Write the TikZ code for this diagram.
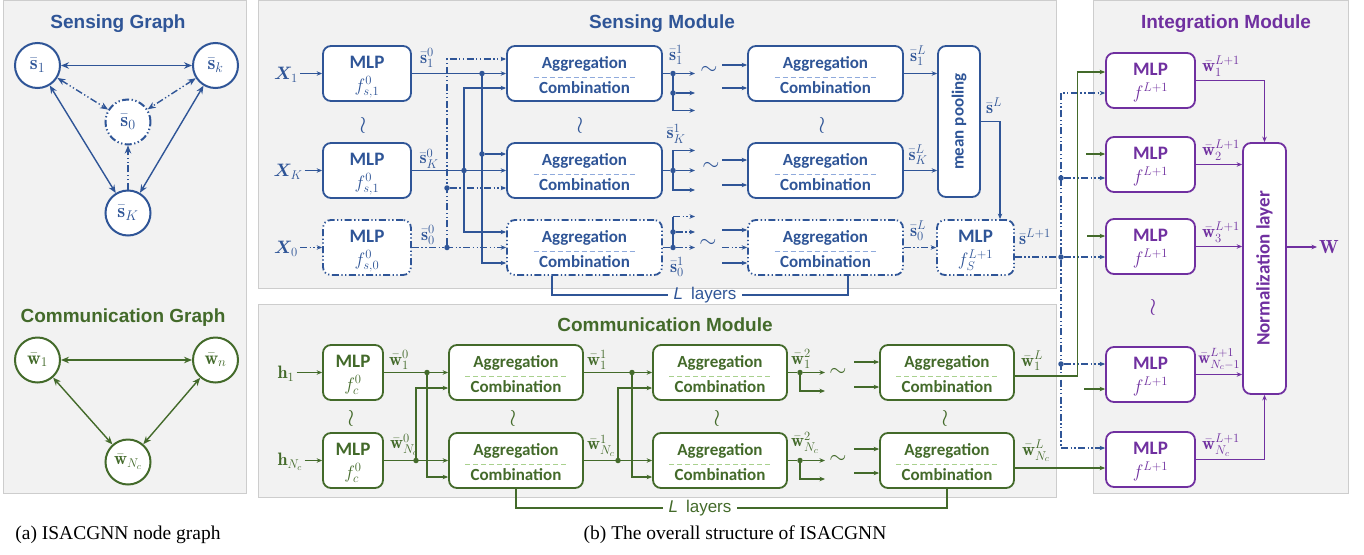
\RequirePackage{fix-cm}
\documentclass[tikz,border=0pt]{standalone}
\usepackage{amsmath}
\usepackage{bm}
\usepackage{fontspec}
\newfontfamily\calib{Carlito}
\newfontfamily\arialf{Liberation Sans}
\newfontfamily\timesf{Liberation Serif}
\usetikzlibrary{arrows.meta,calc}

\definecolor{sblue}{RGB}{47,85,151}
\definecolor{sbluelt}{RGB}{143,170,220}
\definecolor{cgreen}{RGB}{67,106,42}
\definecolor{cgreenlt}{RGB}{169,209,142}
\definecolor{ipurple}{RGB}{112,48,160}
\definecolor{panelbg}{RGB}{242,242,242}
\definecolor{panelln}{RGB}{205,205,205}

\tikzset{
  panel/.style={fill=panelbg,draw=panelln,line width=0.8pt},
  dd/.style={dash pattern=on 7pt off 2.5pt on 1.3pt off 2.5pt on 1.3pt off 2.5pt},
  blk/.style={draw=#1,fill=white,rounded corners=8pt,line width=1.8pt,minimum height=55pt,inner sep=0pt},
  wire/.style={draw=#1,line width=1.1pt},
  jdot/.style={circle,fill=#1,inner sep=0pt,minimum size=5.5pt},
  paneltitle/.style={text=#1,font=\arialf\bfseries\fontsize{19}{22}\selectfont,inner sep=0pt},
  boxtxt/.style={text=#1,font=\calib\bfseries\fontsize{17}{20}\selectfont,inner sep=0pt,anchor=base},
  mlptxt/.style={text=#1,font=\calib\bfseries\fontsize{19}{22}\selectfont,inner sep=0pt,anchor=base},
  ftxt/.style={text=#1,font=\fontsize{18}{21}\selectfont,inner sep=0pt,anchor=base},
  lab/.style={text=#1,font=\fontsize{18}{21}\selectfont,inner sep=0pt},
  inlab/.style={text=#1,font=\fontsize{18}{21}\selectfont,inner sep=2pt},
  gnode/.style={circle,draw=#1,fill=white,line width=2pt,minimum size=45pt,inner sep=0pt,text=#1,font=\fontsize{20}{23}\selectfont},
  gedge/.style={draw=#1,line width=1.4pt,arrows={Stealth[length=8pt,width=6.5pt]-Stealth[length=8pt,width=6.5pt]}},
  vwave/.style={text=#1,font=\fontsize{24}{27}\selectfont,inner sep=0pt},
  hwave/.style={text=#1,font=\fontsize{22}{25}\selectfont,inner sep=0pt},
  layerstxt/.style={text=#1,font=\arialf\fontsize{17}{20}\selectfont,inner sep=5pt},
  captext/.style={text=black,font=\timesf\fontsize{19.5}{22}\selectfont,inner sep=0pt},
}

% MLP block: name, position, colour, extra options, formula
\newcommand\mlpnode[5]{%
  \node[blk=#3,#4] (#1) at (#2) {};
  \node[mlptxt=#3] (#1-m) at ($(#1.center)+(0,-5.5)$) {MLP};
  \node[ftxt=#3] (#1-f) at ($(#1.center)+(0,18)$) {$#5$};
}
% Aggregation/Combination block: name, position, colour, separator colour, extra options
\newcommand\aggnode[5]{%
  \node[blk=#3,#5] (#1) at (#2) {};
  \draw[draw=#4,line width=1pt,dash pattern=on 5pt off 3pt] ($(#1.center)+(-51,3.5)$) -- ($(#1.center)+(51,3.5)$);
  \node[boxtxt=#3] (#1-a) at ($(#1.center)+(0,-5.5)$) {Aggregation};
  \node[boxtxt=#3] (#1-c) at ($(#1.center)+(0,19.5)$) {Combination};
}

\begin{document}
\begin{tikzpicture}[x=1pt,y=-1pt,>={Stealth[length=5.5pt,width=4.5pt]}]
\useasboundingbox (0,0) rectangle (1364,554);

% ---------- panels ----------
\draw[panel] (3,0.5) rectangle (246,493);
\draw[panel] (258,0.5) rectangle (1056,288);
\draw[panel] (258,304) rectangle (1056,497);
\draw[panel] (1093,0.5) rectangle (1348,493);

\node[paneltitle=sblue] (tsg) at (118,24) {Sensing Graph};
\node[paneltitle=cgreen] (tcg) at (123,318) {Communication Graph};
\node[paneltitle=sblue] (tsm) at (662,23.5) {Sensing Module};
\node[paneltitle=cgreen] (tcm) at (665,325) {Communication Module};
\node[paneltitle=ipurple] (tim) at (1226,24) {Integration Module};

% ---------- sensing graph ----------
\node[gnode=sblue] (g1) at (37.5,65.5) {$\bar{\mathbf{s}}_1$};
\node[gnode=sblue] (gk) at (215.5,65.5) {$\bar{\mathbf{s}}_k$};
\node[gnode=sblue,dd] (g0) at (128,122) {$\bar{\mathbf{s}}_0$};
\node[gnode=sblue] (gK) at (128,213) {$\bar{\mathbf{s}}_K$};
\draw[gedge=sblue] (g1) -- (gk);
\draw[gedge=sblue,dd] (g1) -- (g0);
\draw[gedge=sblue,dd] (gk) -- (g0);
\draw[gedge=sblue] (g1) -- (gK);
\draw[gedge=sblue] (gk) -- (gK);
\draw[gedge=sblue,dd,arrows={-Stealth[length=8pt,width=6.5pt]}] (gK) -- (g0);

% ---------- communication graph ----------
\node[gnode=cgreen,font=\fontsize{19}{22}\selectfont] (c1) at (37.5,360) {$\bar{\mathbf{w}}_1$};
\node[gnode=cgreen,font=\fontsize{19}{22}\selectfont] (cn) at (215.5,360) {$\bar{\mathbf{w}}_n$};
\node[gnode=cgreen,font=\fontsize{18}{21}\selectfont] (cN) at (128,462) {$\bar{\mathbf{w}}_{N_c}$};
\draw[gedge=cgreen] (c1) -- (cn);
\draw[gedge=cgreen] (c1) -- (cN);
\draw[gedge=cgreen] (cn) -- (cN);

% ---------- captions ----------
\node[captext] (capa) at (118,535) {(a) ISACGNN node graph};
\node[captext] (capb) at (735,535) {(b) The overall structure of ISACGNN};

% ---------- sensing module ----------
\mlpnode{m1}{367,73.5}{sblue}{minimum width=88pt}{f^{0}_{s,1}}
\mlpnode{mK}{367,170.5}{sblue}{minimum width=88pt}{f^{0}_{s,1}}
\mlpnode{m0}{367,247.5}{sblue}{minimum width=88pt,dd}{f^{0}_{s,0}}
\aggnode{a1}{584.5,73.5}{sblue}{sbluelt}{minimum width=155pt}
\aggnode{aK}{584.5,170.5}{sblue}{sbluelt}{minimum width=155pt}
\aggnode{a0}{584.5,247.5}{sblue}{sbluelt}{minimum width=155pt,dd}
\aggnode{b1}{825.5,73.5}{sblue}{sbluelt}{minimum width=155pt}
\aggnode{bK}{825.5,170.5}{sblue}{sbluelt}{minimum width=155pt}
\aggnode{b0}{825.5,247.5}{sblue}{sbluelt}{minimum width=155pt,dd}
\node[blk=sblue,minimum width=42pt,minimum height=151pt] (mp) at (959,121.5) {};
\node[boxtxt=sblue,anchor=center,rotate=90] (mp-t) at (mp.center) {mean pooling};
\mlpnode{mS}{975.5,247.5}{sblue}{minimum width=77pt,dd}{f_S^{L+1}}

\node[vwave=sblue] (vs1) at (363,125) {$\wr$};
\node[vwave=sblue] (vs2) at (580,125) {$\wr$};
\node[vwave=sblue] (vs3) at (822,125) {$\wr$};
\node[hwave=sblue] (hs1) at (709,70) {$\sim$};
\node[hwave=sblue] (hs2) at (711,166) {$\sim$};
\node[hwave=sblue] (hs3) at (708,243) {$\sim$};

\node[inlab=sblue] (x1) at (286,75) {$\bm{X}_1$};
\node[inlab=sblue] (xK) at (288,172) {$\bm{X}_K$};
\node[inlab=sblue] (x0) at (286,249) {$\bm{X}_0$};
\draw[wire=sblue,->] (x1.east |- m1.west) -- (m1.west);
\draw[wire=sblue,->] (xK.east |- mK.west) -- (mK.west);
\draw[wire=sblue,dd,->] (x0.east |- m0.west) -- (m0.west);

\node[lab=sblue] (ls01) at (427,58) {$\bar{\mathbf{s}}^0_1$};
\node[lab=sblue] (ls0K) at (429,159) {$\bar{\mathbf{s}}^0_K$};
\node[lab=sblue] (ls00) at (428,235) {$\bar{\mathbf{s}}^0_0$};
\node[lab=sblue] (ls11) at (676,55) {$\bar{\mathbf{s}}^1_1$};
\node[lab=sblue] (ls1K) at (676,134) {$\bar{\mathbf{s}}^1_K$};
\node[lab=sblue] (ls10) at (677,267) {$\bar{\mathbf{s}}^1_0$};
\node[lab=sblue] (lsL1) at (918,56) {$\bar{\mathbf{s}}^L_1$};
\node[lab=sblue] (lsLK) at (918,155) {$\bar{\mathbf{s}}^L_K$};
\node[lab=sblue] (lsL0) at (918,231) {$\bar{\mathbf{s}}^L_0$};
\node[lab=sblue] (lsL) at (994,106) {$\bar{\mathbf{s}}^L$};
\node[lab=sblue] (lsL1p) at (1035,237) {$\bar{\mathbf{s}}^{L+1}$};

% layer-0 outputs fanned out to every first-layer block
\draw[wire=sblue,->] (m1.east) -- (m1.east -| a1.west);
\node[jdot=sblue] (p1) at (482,73.5) {};
\node[jdot=sblue] (p2) at (482,154) {};
\draw[wire=sblue,->] (p1) |- ([yshift=-15.5pt]a0.west);
\draw[wire=sblue,->] (p2) -- ([yshift=16.5pt]aK.west);
\draw[wire=sblue,->] (mK.east) -- (mK.east -| aK.west);
\node[jdot=sblue] (q1) at (464,170.5) {};
\draw[wire=sblue,->] (q1) |- ([yshift=-14.5pt]a1.west);
\draw[wire=sblue,->] (q1) |- ([yshift=15.5pt]a0.west);
\draw[wire=sblue,dd,->] (m0.east) -- (m0.east -| a0.west);
\node[jdot=sblue] (r1) at (447,247.5) {};
\node[jdot=sblue] (r2) at (447,188) {};
\draw[wire=sblue,dd,->] (r1) |- ([yshift=14.5pt]a1.west);
\draw[wire=sblue,dd,->] (r2) -- ([yshift=-17.5pt]aK.west);

% first-layer outputs
\node[jdot=sblue] (o1) at (673,73.5) {};
\node[jdot=sblue] (o1b) at (673,93) {};
\draw[wire=sblue] (a1.east) -- (o1);
\draw[wire=sblue,->] (o1) -- ++(22,0);
\draw[wire=sblue,->] (o1) |- ++(22,37);
\draw[wire=sblue,->] (o1b) -- ++(22,0);
\node[jdot=sblue] (oK) at (673,170.5) {};
\draw[wire=sblue] (aK.east) -- (oK);
\draw[wire=sblue,->] (oK) -- ++(22,0);
\draw[wire=sblue,->] (oK) |- ++(22,-20);
\draw[wire=sblue,->] (oK) |- ++(22,19.5);
\node[jdot=sblue] (o0) at (673,247.5) {};
\node[jdot=sblue] (o0b) at (673,232) {};
\draw[wire=sblue] (a0.east) -- (o0);
\draw[wire=sblue] (o0) -- ++(0,-31) coordinate (o0t);
\draw[wire=sblue,dd,->] (o0) -- ++(22,0);
\draw[wire=sblue,dd,->] (o0b) -- ++(22,0);
\draw[wire=sblue,dd,->] (o0t) -- ++(22,0);

% inputs of the last layer
\draw[wire=sblue,->] ($(b1.west)+(-25,-8.5)$) -- ([yshift=8.5pt]b1.west);
\draw[wire=sblue,->] ($(b1.west)+(-25,14.5)$) -- ([yshift=-14.5pt]b1.west);
\draw[wire=sblue,->] ($(bK.west)+(-25,-10.5)$) -- ([yshift=10.5pt]bK.west);
\draw[wire=sblue,->] ($(bK.west)+(-25,14.5)$) -- ([yshift=-14.5pt]bK.west);
\draw[wire=sblue,->] ($(b0.west)+(-25,-17.5)$) -- ([yshift=17.5pt]b0.west);
\draw[wire=sblue,dd,->] ($(b0.west)+(-25,0)$) -- (b0.west);
\draw[wire=sblue,->] ($(b0.west)+(-25,15.5)$) -- ([yshift=-15.5pt]b0.west);

% last layer to pooling and the sensing MLP
\draw[wire=sblue,->] (b1.east) -- (b1.east -| mp.west);
\draw[wire=sblue,->] (bK.east) -- (bK.east -| mp.west);
\draw[wire=sblue,dd,->] (b0.east) -- (b0.east -| mS.west);
\draw[wire=sblue,->] (mp.east) -| ([xshift=24.5pt]mS.north);

% L layers bracket (sensing)
\node[layerstxt=sblue] (Ls) at (705,295) {\textit{L}\hspace{8pt}layers};
\draw[wire=sblue] ([xshift=-32.5pt]a0.south) |- (Ls.west);
\draw[wire=sblue] ([xshift=22.5pt]b0.south) |- (Ls.east);

% ---------- communication module ----------
\mlpnode{n1}{353,372.5}{cgreen}{minimum width=60pt}{f_c^{0}}
\mlpnode{nN}{353,460.5}{cgreen}{minimum width=60pt}{f_c^{0}}
\aggnode{c1a}{516,372.5}{cgreen}{cgreenlt}{minimum width=134pt}
\aggnode{c1b}{516,460.5}{cgreen}{cgreenlt}{minimum width=134pt}
\aggnode{c2a}{720,372.5}{cgreen}{cgreenlt}{minimum width=134pt}
\aggnode{c2b}{720,460.5}{cgreen}{cgreenlt}{minimum width=134pt}
\aggnode{cLa}{947,372.5}{cgreen}{cgreenlt}{minimum width=134pt}
\aggnode{cLb}{947,460.5}{cgreen}{cgreenlt}{minimum width=134pt}

\node[vwave=cgreen] (vc1) at (351,418) {$\wr$};
\node[vwave=cgreen] (vc2) at (513,418) {$\wr$};
\node[vwave=cgreen] (vc3) at (717,418) {$\wr$};
\node[vwave=cgreen] (vc4) at (945,418) {$\wr$};
\node[hwave=cgreen] (hc1) at (838,372) {$\sim$};
\node[hwave=cgreen] (hc2) at (838,459) {$\sim$};

\node[inlab=cgreen] (h1) at (286,374) {$\mathbf{h}_1$};
\node[inlab=cgreen] (hN) at (290,462) {$\mathbf{h}_{N_c}$};
\draw[wire=cgreen,->] (h1.east |- n1.west) -- (n1.west);
\draw[wire=cgreen,->] (hN.east |- nN.west) -- (nN.west);

\node[lab=cgreen] (lw01) at (399,360) {$\bar{\mathbf{w}}^0_1$};
\node[lab=cgreen] (lw0N) at (404,445) {$\bar{\mathbf{w}}^0_{N_c}$};
\node[lab=cgreen] (lw11) at (597,360) {$\bar{\mathbf{w}}^1_1$};
\node[lab=cgreen] (lw1N) at (601,446) {$\bar{\mathbf{w}}^1_{N_c}$};
\node[lab=cgreen] (lw21) at (801,359) {$\bar{\mathbf{w}}^2_1$};
\node[lab=cgreen] (lw2N) at (805,443) {$\bar{\mathbf{w}}^2_{N_c}$};
\node[lab=cgreen] (lwL1) at (1032,361) {$\bar{\mathbf{w}}^L_1$};
\node[lab=cgreen] (lwLN) at (1036,451) {$\bar{\mathbf{w}}^L_{N_c}$};

\draw[wire=cgreen,->] (n1.east) -- (n1.east -| c1a.west);
\node[jdot=cgreen] (u1) at (427,372.5) {};
\draw[wire=cgreen,->] (u1) |- ([yshift=-16.5pt]c1b.west);
\draw[wire=cgreen,->] (nN.east) -- (nN.east -| c1b.west);
\node[jdot=cgreen] (u2) at (416,460.5) {};
\draw[wire=cgreen,->] (u2) |- ([yshift=-15.5pt]c1a.west);

\draw[wire=cgreen,->] (c1a.east) -- (c1a.east -| c2a.west);
\node[jdot=cgreen] (v1) at (632,372.5) {};
\draw[wire=cgreen,->] (v1) |- ([yshift=-16.5pt]c2b.west);
\draw[wire=cgreen,->] (c1b.east) -- (c1b.east -| c2b.west);
\node[jdot=cgreen] (v2) at (618,460.5) {};
\draw[wire=cgreen,->] (v2) |- ([yshift=-15.5pt]c2a.west);

\node[jdot=cgreen] (z1) at (800,372.5) {};
\draw[wire=cgreen] (c2a.east) -- (z1);
\draw[wire=cgreen,->] (z1) -- ++(25,0);
\draw[wire=cgreen,->] (z1) |- ++(25,18.5);
\node[jdot=cgreen] (z2) at (800,460.5) {};
\draw[wire=cgreen] (c2b.east) -- (z2);
\draw[wire=cgreen,->] (z2) -- ++(25,0);
\draw[wire=cgreen,->] (z2) |- ++(25,18.5);

\draw[wire=cgreen,->] ($(cLa.west)+(-25,-10.5)$) -- ([yshift=10.5pt]cLa.west);
\draw[wire=cgreen,->] ($(cLa.west)+(-25,14.5)$) -- ([yshift=-14.5pt]cLa.west);
\draw[wire=cgreen,->] ($(cLb.west)+(-25,-11.5)$) -- ([yshift=11.5pt]cLb.west);
\draw[wire=cgreen,->] ($(cLb.west)+(-25,12.5)$) -- ([yshift=-12.5pt]cLb.west);

% L layers bracket (communication)
\node[layerstxt=cgreen] (Lc) at (700,508) {\textit{L}\hspace{8pt}layers};
\draw[wire=cgreen] (c1b.south) |- (Lc.west);
\draw[wire=cgreen] (cLb.south) |- (Lc.east);

% ---------- integration module ----------
\mlpnode{i1}{1150.5,80.5}{ipurple}{minimum width=89pt}{f^{L+1}}
\mlpnode{i2}{1150.5,164.5}{ipurple}{minimum width=89pt}{f^{L+1}}
\mlpnode{i3}{1150.5,246.5}{ipurple}{minimum width=89pt}{f^{L+1}}
\mlpnode{i4}{1150.5,374.5}{ipurple}{minimum width=89pt}{f^{L+1}}
\mlpnode{i5}{1150.5,459.5}{ipurple}{minimum width=89pt}{f^{L+1}}
\node[vwave=ipurple] (vi) at (1153,307) {$\wr$};
\node[blk=ipurple,minimum width=43pt,minimum height=251pt] (nl) at (1264.5,268.5) {};
\node[boxtxt=ipurple,anchor=center,rotate=90,font=\calib\bfseries\fontsize{19}{22}\selectfont] (nl-t) at (nl.center) {Normalization layer};
\node[inlab=ipurple,font=\fontsize{19}{22}\selectfont] (Wout) at (1329,247) {$\mathbf{W}$};

\node[lab=ipurple] (lo1) at (1221,66) {$\bar{\mathbf{w}}^{L+1}_1$};
\node[lab=ipurple] (lo2) at (1221,150) {$\bar{\mathbf{w}}^{L+1}_2$};
\node[lab=ipurple] (lo3) at (1221,232) {$\bar{\mathbf{w}}^{L+1}_3$};
\node[lab=ipurple,font=\fontsize{17}{20}\selectfont] (lo4) at (1219,359) {$\bar{\mathbf{w}}^{L+1}_{N_c-1}$};
\node[lab=ipurple] (lo5) at (1221,445) {$\bar{\mathbf{w}}^{L+1}_{N_c}$};

\draw[wire=ipurple,->] (i1.east) -| (nl.north);
\draw[wire=ipurple,->] (i2.east) -- (i2.east -| nl.west);
\draw[wire=ipurple,->] (i3.east) -- (i3.east -| nl.west);
\draw[wire=ipurple,->] (i4.east) -- (i4.east -| nl.west);
\draw[wire=ipurple,->] (i5.east) -| (nl.south);
\draw[wire=ipurple,->] (nl.east |- Wout.west) -- (Wout.west);

% sensing result broadcast to every integration MLP
\node[jdot=sblue] (jS) at (1061,257) {};
\node[jdot=sblue] (j2) at (1061,178) {};
\node[jdot=sblue] (j4) at (1061,364) {};
\draw[wire=sblue,dd] ([yshift=-9.5pt]mS.east) -- (jS);
\draw[wire=sblue,dd,->] (jS) -- ([yshift=-10.5pt]i3.west);
\draw[wire=sblue,dd,->] (jS) |- ([yshift=-12.5pt]i1.west);
\draw[wire=sblue,dd,->] (jS) |- ([yshift=11.5pt]i5.west);
\draw[wire=sblue,dd,->] (j2) -- ([yshift=-13.5pt]i2.west);
\draw[wire=sblue,dd,->] (j4) -- ([yshift=10.5pt]i4.west);

% communication results into the integration MLPs
\draw[wire=cgreen,->] ([yshift=-3.5pt]cLa.east) -| ($(i1.west)+(-28,-8.5)$) -- ([yshift=8.5pt]i1.west);
\draw[wire=cgreen,->] ($(i2.west)+(-19,-10.5)$) -- ([yshift=10.5pt]i2.west);
\draw[wire=cgreen,->] ($(i3.west)+(-18,-10.5)$) -- ([yshift=10.5pt]i3.west);
\draw[wire=cgreen,->] ($(i4.west)+(-21,14.5)$) -- ([yshift=-14.5pt]i4.west);
\draw[wire=cgreen,->] ([yshift=-7.5pt]cLb.east) -- ([yshift=-7.5pt]cLb.east -| i5.west);
\end{tikzpicture}
\end{document}
